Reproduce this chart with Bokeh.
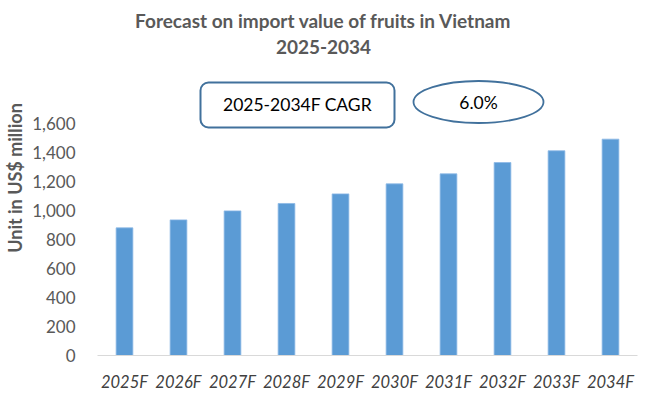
import math
from bokeh.plotting import figure
from bokeh.models import (ColumnDataSource, FactorRange, Range1d, FixedTicker,
                          NumeralTickFormatter, Label, BoxAnnotation)
from bokeh.embed import file_html
from bokeh.resources import INLINE

# ---- data ----
years = ["2025F", "2026F", "2027F", "2028F", "2029F",
         "2030F", "2031F", "2032F", "2033F", "2034F"]
values = [879, 934, 996, 1047, 1113, 1182, 1251, 1329, 1410, 1490]
y_ticks = [0, 200, 400, 600, 800, 1000, 1200, 1400, 1600]
title_line1 = "Forecast on import value of fruits in Vietnam"
title_line2 = "2025-2034"
cagr_label = "2025-2034F CAGR"
cagr_value = "6.0%"
y_label = "Unit in US$ million"

FONT = "Lato"

# ---- geometry helpers (image pixel -> data) ----
W, H = 650, 399
FRAME_L, FRAME_R = 97, 637
FRAME_B = 355
PX_PER_CAT = (FRAME_R - FRAME_L) / len(years)
PX_PER_UNIT = 0.1452
Y_TOP = FRAME_B / PX_PER_UNIT


def xs(ix):
    return (ix - FRAME_L) / PX_PER_CAT


def ys(iy):
    return (FRAME_B - iy) / PX_PER_UNIT


source = ColumnDataSource(data=dict(years=years, values=values))

p = figure(width=W, height=H, x_range=FactorRange(*years, range_padding=0),
           y_range=Range1d(0, Y_TOP), output_backend="svg", toolbar_location=None,
           min_border_left=FRAME_L, min_border_right=W - FRAME_R,
           min_border_top=0, min_border_bottom=H - FRAME_B)
p.outline_line_color = None
p.grid.grid_line_color = None
p.background_fill_color = "white"

p.vbar(x="years", top="values", width=0.31, source=source,
       fill_color="#5b9bd5", line_color="#8db9e6", line_width=0.8)

# x axis
p.xaxis.axis_line_color = "#d9d9d9"
p.xaxis.axis_line_width = 1
p.xaxis.major_tick_line_color = None
p.xaxis.minor_tick_line_color = None
p.xaxis.major_tick_out = 0
p.xaxis.major_tick_in = 0
p.xaxis.major_label_standoff = 16
p.xaxis.major_label_text_font = FONT
p.xaxis.major_label_text_font_style = "italic"
p.xaxis.major_label_text_font_size = "16.5px"
p.xaxis.major_label_text_color = "#404040"

# y axis
p.yaxis.ticker = FixedTicker(ticks=y_ticks)
p.yaxis.bounds = (y_ticks[0], y_ticks[-1])
p.yaxis.formatter = NumeralTickFormatter(format="0,0")
p.yaxis.axis_line_color = None
p.yaxis.major_tick_line_color = None
p.yaxis.minor_tick_line_color = None
p.yaxis.major_tick_out = 0
p.yaxis.major_tick_in = 0
p.yaxis.major_label_standoff = 22
p.yaxis.major_label_text_font = FONT
p.yaxis.major_label_text_font_size = "17px"
p.yaxis.major_label_text_color = "#595959"
p.yaxis.axis_label = y_label
p.yaxis.axis_label_text_font = FONT
p.yaxis.axis_label_text_font_style = "bold"
p.yaxis.axis_label_text_font_size = "18px"
p.yaxis.axis_label_text_color = "#595959"
p.yaxis.axis_label_standoff = 3

# title
for txt, iy in [(title_line1, 20), (title_line2, 46)]:
    p.add_layout(Label(x=xs(323), y=ys(iy), text=txt, text_font=FONT,
                       text_font_style="bold", text_font_size="19px",
                       text_color="#595959", text_align="center",
                       text_baseline="middle"))

# CAGR box
p.add_layout(BoxAnnotation(left=xs(200), right=xs(394), top=ys(82), bottom=ys(127),
                           fill_color="white", fill_alpha=1,
                           line_color="#41719c", line_alpha=1, line_width=2,
                           border_radius=8))
p.add_layout(Label(x=xs(297), y=ys(104), text=cagr_label, text_font=FONT,
                   text_font_size="17.5px", text_color="black",
                   text_align="center", text_baseline="middle"))

# CAGR ellipse
p.ellipse(x=[xs(478)], y=[ys(101.5)], width=130, height=42,
          width_units="screen", height_units="screen",
          fill_color="white", line_color="#41719c", line_width=1.8)
p.add_layout(Label(x=xs(478), y=ys(102), text=cagr_value, text_font=FONT,
                   text_font_size="17.5px", text_color="black",
                   text_align="center", text_baseline="middle"))

open("out.html", "w").write(file_html(p, INLINE))
